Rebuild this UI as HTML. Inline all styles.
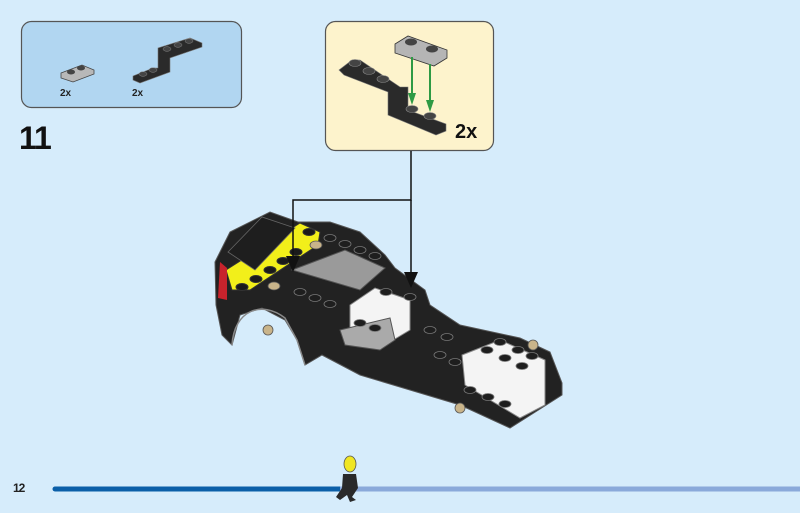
<!DOCTYPE html>
<html><head><meta charset="utf-8"><style>
html,body{margin:0;padding:0;background:#d6ecfb;}
svg{display:block;font-family:"Liberation Sans",sans-serif;}
</style></head><body>
<svg width="800" height="513" viewBox="0 0 800 513" xmlns="http://www.w3.org/2000/svg">
<rect width="800" height="513" fill="#d6ecfb"/>
<!-- parts box -->
<rect x="21.5" y="21.5" width="220" height="86" rx="10" fill="#b1d6f1" stroke="#555" stroke-width="1.2"/>
<polygon points="61,73 82,65 94,70 94,74 73,82 61,78" fill="#b8b8b8" stroke="#444" stroke-width="0.8"/>
<ellipse cx="71" cy="72" rx="4" ry="2.5" fill="#444"/><ellipse cx="81" cy="68" rx="4" ry="2.5" fill="#444"/>
<text x="60" y="96" font-size="10" font-weight="bold" fill="#222">2x</text>
<polygon points="133,76 153,68 158,68 158,48 190,38 202,43 202,47 170,58 170,72 140,83 133,80" fill="#2a2a2a" stroke="#777" stroke-width="0.6"/>
<ellipse cx="143" cy="74" rx="4" ry="2.3" fill="#444" stroke="#888" stroke-width="0.5"/><ellipse cx="153" cy="70" rx="4" ry="2.3" fill="#444" stroke="#888" stroke-width="0.5"/>
<ellipse cx="167" cy="49" rx="4" ry="2.3" fill="#444" stroke="#888" stroke-width="0.5"/><ellipse cx="178" cy="45" rx="4" ry="2.3" fill="#444" stroke="#888" stroke-width="0.5"/><ellipse cx="189" cy="41" rx="4" ry="2.3" fill="#444" stroke="#888" stroke-width="0.5"/>
<text x="132" y="96" font-size="10" font-weight="bold" fill="#222">2x</text>
<text x="19" y="149" font-size="32" font-weight="bold" fill="#111" letter-spacing="-1">11</text>
<!-- callout -->
<rect x="325.5" y="21.5" width="168" height="129" rx="10" fill="#fdf3cc" stroke="#555" stroke-width="1.2"/>
<polygon points="339,70 352,60 360,60 400,87 408,87 408,110 446,124 446,131 436,135 388,115 388,92 344,75" fill="#2a2a2a" stroke="#777" stroke-width="0.6"/>
<ellipse cx="355" cy="63" rx="6" ry="3.5" fill="#444" stroke="#888" stroke-width="0.6"/><ellipse cx="369" cy="71" rx="6" ry="3.5" fill="#444" stroke="#888" stroke-width="0.6"/><ellipse cx="383" cy="79" rx="6" ry="3.5" fill="#444" stroke="#888" stroke-width="0.6"/>
<ellipse cx="412" cy="109" rx="6" ry="3.5" fill="#444" stroke="#888" stroke-width="0.6"/><ellipse cx="430" cy="116" rx="6" ry="3.5" fill="#444" stroke="#888" stroke-width="0.6"/>
<polygon points="395,44 408,36 447,50 447,58 434,66 395,53" fill="#b5b5b5" stroke="#333" stroke-width="0.8"/>
<ellipse cx="411" cy="42" rx="6" ry="3.5" fill="#444"/><ellipse cx="432" cy="49" rx="6" ry="3.5" fill="#444"/>
<line x1="412" y1="57" x2="412" y2="94" stroke="#2e9a44" stroke-width="2"/>
<polygon points="408,93 416,93 412,105" fill="#2e9a44"/>
<line x1="430" y1="64" x2="430" y2="101" stroke="#2e9a44" stroke-width="2"/>
<polygon points="426,100 434,100 430,112" fill="#2e9a44"/>
<text x="455" y="138" font-size="20" font-weight="bold" fill="#111">2x</text>
<!-- car -->
<polygon points="215,262 230,232 270,212 298,222 330,222 360,232 385,255 395,268 425,290 430,305 460,325 520,338 550,352 562,383 562,395 510,428 460,405 410,390 360,375 322,355 305,365 297,340 285,320 262,308 240,315 232,345 222,335 216,305" fill="#222" stroke="#555" stroke-width="1"/>
<path d="M232,345 C234,310 262,300 285,318 L297,340 L305,365" fill="none" stroke="#888" stroke-width="1.5"/>
<polygon points="226,270 300,223 320,232 318,245 250,290 232,290" fill="#f2ef1a" stroke="#333" stroke-width="1"/>
<polygon points="228,252 262,217 295,228 255,270" fill="#1e1e1e" stroke="#666" stroke-width="0.8"/>
<g fill="#1a1a1a" stroke="#333"><ellipse cx="242" cy="287" rx="6" ry="3.5"/><ellipse cx="256" cy="279" rx="6" ry="3.5"/><ellipse cx="270" cy="270" rx="6" ry="3.5"/><ellipse cx="283" cy="261" rx="6" ry="3.5"/><ellipse cx="296" cy="252" rx="6" ry="3.5"/><ellipse cx="309" cy="232" rx="6" ry="3.5"/></g>
<polygon points="220,262 227,268 227,300 218,298" fill="#c8232c"/>
<polygon points="350,305 375,288 410,300 410,330 385,345 350,330" fill="#f4f4f4" stroke="#888"/>
<polygon points="340,330 390,318 395,340 380,350 345,345" fill="#aaa" stroke="#555"/>
<polygon points="292,270 345,250 385,268 360,290" fill="#9a9a9a" stroke="#555"/>
<polygon points="462,355 500,340 545,360 545,405 520,418 465,385" fill="#f4f4f4" stroke="#888"/>
<g fill="#1e1e1e" stroke="#777" stroke-width="0.8">
<ellipse cx="487" cy="350" rx="6" ry="3.5"/><ellipse cx="505" cy="358" rx="6" ry="3.5"/><ellipse cx="522" cy="366" rx="6" ry="3.5"/><ellipse cx="500" cy="342" rx="6" ry="3.5"/><ellipse cx="518" cy="350" rx="6" ry="3.5"/><ellipse cx="532" cy="356" rx="6" ry="3.5"/>
<ellipse cx="360" cy="323" rx="6" ry="3.5"/><ellipse cx="375" cy="328" rx="6" ry="3.5"/><ellipse cx="386" cy="292" rx="6" ry="3.5"/><ellipse cx="410" cy="297" rx="6" ry="3.5"/>
<ellipse cx="330" cy="238" rx="6" ry="3.5"/><ellipse cx="345" cy="244" rx="6" ry="3.5"/><ellipse cx="360" cy="250" rx="6" ry="3.5"/><ellipse cx="375" cy="256" rx="6" ry="3.5"/>
<ellipse cx="300" cy="292" rx="6" ry="3.5"/><ellipse cx="315" cy="298" rx="6" ry="3.5"/><ellipse cx="330" cy="304" rx="6" ry="3.5"/>
<ellipse cx="430" cy="330" rx="6" ry="3.5"/><ellipse cx="447" cy="337" rx="6" ry="3.5"/><ellipse cx="440" cy="355" rx="6" ry="3.5"/><ellipse cx="455" cy="362" rx="6" ry="3.5"/><ellipse cx="470" cy="390" rx="6" ry="3.5"/><ellipse cx="488" cy="397" rx="6" ry="3.5"/><ellipse cx="505" cy="404" rx="6" ry="3.5"/>
</g>
<g fill="#c9b48a" stroke="#555" stroke-width="0.8">
<ellipse cx="316" cy="245" rx="6" ry="4"/><ellipse cx="274" cy="286" rx="6" ry="4"/>
<ellipse cx="268" cy="330" rx="5" ry="5"/><ellipse cx="460" cy="408" rx="5" ry="5"/><ellipse cx="533" cy="345" rx="5" ry="5"/>
</g>
<!-- connectors -->
<polyline points="411,151 411,200 293,200 293,258" fill="none" stroke="#111" stroke-width="1.5"/>
<polygon points="286,256 300,256 293,272" fill="#111"/>
<line x1="411" y1="200" x2="411" y2="274" stroke="#111" stroke-width="1.5"/>
<polygon points="404,272 418,272 411,288" fill="#111"/>
<!-- footer -->
<text x="13" y="492" font-size="12" font-weight="bold" fill="#222" letter-spacing="-1">12</text>
<line x1="55" y1="489" x2="340" y2="489" stroke="#0b5fa8" stroke-width="5" stroke-linecap="round"/>
<line x1="340" y1="489" x2="800" y2="489" stroke="#8aa9da" stroke-width="5"/>
<polygon points="343,474 356,474 358,488 352,497 356,500 350,502 347,495 340,500 336,497 342,488" fill="#2a2a2a"/>
<ellipse cx="350" cy="464" rx="6" ry="8" fill="#f0e623" stroke="#555" stroke-width="0.8"/>
</svg>
</body></html>
